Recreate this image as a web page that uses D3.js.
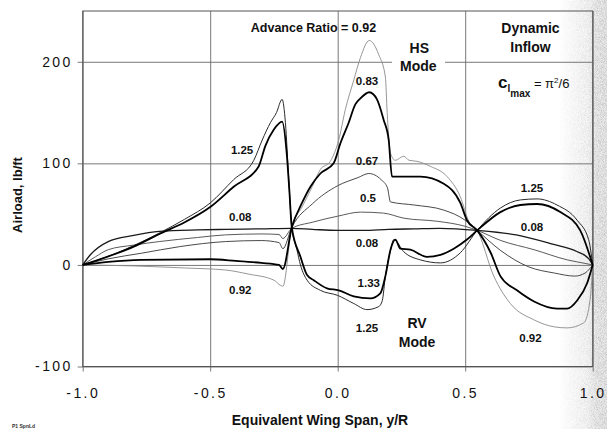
<!DOCTYPE html>
<html>
<head>
<meta charset="utf-8">
<script src="https://cdnjs.cloudflare.com/ajax/libs/d3/7.8.5/d3.min.js"></script>
<style>
  body { margin: 0; background: #fff; }
  svg { display: block; font-family: "Liberation Sans", Arial, sans-serif; }
  .tick text { font-size: 14px; letter-spacing: 2.4px; fill: #111; }
  .lbl { font-size: 11.5px; font-weight: bold; fill: #111; text-anchor: middle; }
  .big { font-size: 14px; font-weight: bold; fill: #111; text-anchor: middle; }
</style>
</head>
<body>
<svg id="chart" width="607" height="429"></svg>
<script>
// axis ticks
var xTicks = [-1.0, -0.5, 0.0, 0.5, 1.0];
var yTicks = [-100, 0, 100, 200];

// airload vs span, [y/R, lb/ft]
var mu008 = [[-1,0],[-0.97,10],[-0.9,23],[-0.8,29],[-0.7,33],[-0.55,34.5],[-0.44,35],[-0.3,35.5],[-0.18,36],
  [-0.1,35],[0,34],[0.1,34],[0.2,35],[0.3,35.5],[0.4,36],[0.547,34],[0.7,29.5],[0.834,21],[0.94,13],[0.985,6],[1,0]];
var mu050 = [[-1,0],[-0.95,8],[-0.9,15],[-0.8,19.5],[-0.7,23],[-0.55,27],[-0.44,29.6],[-0.3,30.5],[-0.23,30],[-0.215,26],
  [-0.18,36],[-0.1,42],[0,48],[0.09,52],[0.18,51],[0.26,46],[0.39,43],[0.5,38],[0.547,34],[0.64,24],[0.77,15],[0.9,5],[0.97,1.5],[1,0]];
var mu067 = [[-1,0],[-0.9,6],[-0.77,11.5],[-0.62,18],[-0.44,23],[-0.3,24],[-0.23,22],[-0.215,16],[-0.18,37],
  [-0.1,60],[0,78],[0.08,86],[0.122,90],[0.17,84],[0.195,76],[0.207,62],[0.3,59],[0.416,54],[0.5,44],[0.547,34],
  [0.64,14],[0.75,-2],[0.85,-8],[0.93,-11],[0.97,-8],[1,0]];
var mu083 = [[-1,0],[-0.9,3],[-0.77,5],[-0.5,5.6],[-0.4,4],[-0.3,2],[-0.23,0],[-0.215,-4],[-0.18,37],
  [-0.14,61],[-0.107,77],[-0.068,90],[-0.016,100],[0.011,120],[0.043,140],[0.069,158],[0.089,164],[0.124,170],
  [0.154,163],[0.18,143],[0.2,123],[0.213,87],[0.233,87],[0.324,87],[0.416,80],[0.481,61],[0.507,44],[0.547,34],
  [0.6,12],[0.638,-11],[0.703,-25],[0.77,-36],[0.86,-43],[0.9,-43],[0.939,-35],[0.978,-18],[1,0]];
var mu092 = [[-1,0],[-0.8,-1],[-0.6,-3],[-0.44,-5],[-0.35,-9],[-0.25,-15],[-0.225,-20],[-0.215,-21],[-0.18,37],
  [-0.14,57],[-0.1,77],[-0.068,94],[-0.029,102],[0.004,123],[0.03,153],[0.063,182],[0.089,204],[0.124,221],
  [0.161,207],[0.187,185],[0.194,150],[0.207,110],[0.226,103],[0.259,107],[0.28,103],[0.311,102],[0.364,97],
  [0.429,87],[0.481,67],[0.514,43],[0.547,34],[0.612,-11],[0.677,-38],[0.769,-54],[0.85,-61],[0.9,-62],
  [0.965,-57],[0.99,-34],[1,0]];
var mu125 = [[-1,0],[-0.95,4],[-0.865,12],[-0.8,19],[-0.695,32],[-0.6,45],[-0.5,61],[-0.408,84],[-0.329,103],
  [-0.296,123],[-0.264,140],[-0.24,150],[-0.218,163],[-0.205,140],[-0.192,84],[-0.18,37],[-0.16,15],[-0.146,0],
  [-0.12,-15],[-0.068,-25],[0,-30],[0.063,-38],[0.115,-44],[0.161,-41],[0.175,-35],[0.187,-11],[0.205,12],
  [0.22,25],[0.259,13],[0.324,5],[0.403,2],[0.481,12],[0.547,34],[0.638,56],[0.716,64],[0.782,65],[0.86,59],
  [0.939,44],[0.984,25],[1,0]];
var mu133 = [[-1,0],[-0.95,4],[-0.865,11.5],[-0.8,18],[-0.695,31],[-0.6,42],[-0.5,57],[-0.408,77],[-0.31,97],
  [-0.284,117],[-0.251,133],[-0.218,141],[-0.2,110],[-0.19,75],[-0.18,37],[-0.146,8],[-0.12,-10],[-0.094,-15],
  [-0.042,-23],[0.004,-25],[0.063,-31],[0.128,-33],[0.167,-28],[0.187,-11],[0.207,15],[0.226,25],[0.246,16],
  [0.285,15],[0.35,8],[0.403,10],[0.455,16],[0.507,25],[0.547,34],[0.638,52],[0.716,59],[0.782,60],[0.873,52],
  [0.951,34],[1,0]];

var series = [
  {data: mu092, stroke: "#8a8a8a", width: 0.9},
  {data: mu067, stroke: "#4a4a4a", width: 1},
  {data: mu050, stroke: "#5a5a5a", width: 1},
  {data: mu008, stroke: "#1a1a1a", width: 1.3},
  {data: mu125, stroke: "#2a2a2a", width: 1},
  {data: mu083, stroke: "#000", width: 1.8},
  {data: mu133, stroke: "#000", width: 1.8}
];

var svg = d3.select("#chart");
var pL = 82.7, pR = 592.7, pT = 11, pB = 366.5;

var x = d3.scaleLinear().domain([-1, 1]).range([pL, pR]);
var y = d3.scaleLinear().domain([-100, 250]).range([pB, pT]);

// scan speckle on the right edge
var defs = svg.append("defs");
var grad = defs.append("linearGradient").attr("id", "fade");
grad.append("stop").attr("offset", "0").attr("stop-color", "#fff").attr("stop-opacity", 0);
grad.append("stop").attr("offset", "0.6").attr("stop-color", "#fff").attr("stop-opacity", 0.45);
grad.append("stop").attr("offset", "0.8").attr("stop-color", "#fff").attr("stop-opacity", 0.9);
grad.append("stop").attr("offset", "1").attr("stop-color", "#fff").attr("stop-opacity", 1);
var mask = defs.append("mask").attr("id", "fadeMask");
mask.append("rect").attr("x", 558).attr("y", 0).attr("width", 49).attr("height", 429).attr("fill", "url(#fade)");
var f = defs.append("filter").attr("id", "grain").attr("x", 0).attr("y", 0).attr("width", 1).attr("height", 1);
f.append("feTurbulence").attr("type", "fractalNoise").attr("baseFrequency", 1.3).attr("numOctaves", 1).attr("seed", 4);
f.append("feColorMatrix").attr("type", "matrix")
  .attr("values", "0 0 0 0 0.45  0 0 0 0 0.45  0 0 0 0 0.45  2.2 0 0 0 -0.8");
svg.append("rect").attr("x", 558).attr("y", 0).attr("width", 49).attr("height", 429)
  .attr("fill", "#d0d0d0").attr("mask", "url(#fadeMask)").attr("opacity", 0.45);
svg.append("rect").attr("x", 558).attr("y", 0).attr("width", 49).attr("height", 429)
  .attr("filter", "url(#grain)").attr("mask", "url(#fadeMask)").attr("opacity", 0.8);

var fmt = function(d) { return d3.format(".1f")(d).replace("\u2212", "-"); };

// axes with grid lines
var gx = svg.append("g")
  .attr("transform", "translate(0," + pB + ")")
  .call(d3.axisBottom(x).tickValues(xTicks).tickFormat(fmt)
    .tickSizeInner(-(pB - pT)).tickSizeOuter(0).tickPadding(21.5));
gx.selectAll(".tick line").attr("y1", 5).attr("stroke", "#6a6a6a").attr("stroke-width", 0.9);

var gy = svg.append("g")
  .attr("transform", "translate(" + pL + ",0)")
  .call(d3.axisLeft(y).tickValues(yTicks).tickFormat(function(d) { return String(d); })
    .tickSizeInner(-(pR - pL)).tickSizeOuter(0).tickPadding(10));
gy.selectAll(".tick line").attr("x1", -5).attr("stroke", "#6a6a6a").attr("stroke-width", 0.9);
gx.select(".domain").remove();
gy.select(".domain").remove();
svg.selectAll(".tick text").attr("font-family", null).attr("font-size", null);

svg.append("rect").attr("x", pL).attr("y", pT)
  .attr("width", pR - pL).attr("height", pB - pT)
  .attr("fill", "none").attr("stroke", "#555").attr("stroke-width", 1);

// white patch behind the "HS Mode" label on the 200 grid line
svg.append("rect").attr("x", 392).attr("y", 38).attr("width", 53).attr("height", 38).attr("fill", "#fff");

var line = d3.line()
  .x(function(d) { return x(d[0]); })
  .y(function(d) { return y(d[1]); })
  .curve(d3.curveMonotoneX);

svg.selectAll(".curve")
  .data(series)
  .enter().append("path")
  .attr("class", "curve")
  .attr("d", function(d) { return line(d.data); })
  .attr("fill", "none")
  .attr("stroke", function(d) { return d.stroke; })
  .attr("stroke-width", function(d) { return d.width; })
  .attr("stroke-linejoin", "round");

// curve labels
var notes = [
  ["1.25", -0.375, 113], ["0.08", -0.382, 47], ["0.92", -0.382, -25],
  ["0.83", 0.115, 181.5], ["0.67", 0.115, 102], ["0.5", 0.119, 65.7], ["0.08", 0.115, 21.4],
  ["1.33", 0.122, -18], ["1.25", 0.115, -62.4],
  ["1.25", 0.762, 75.6], ["0.08", 0.762, 37.7], ["0.92", 0.756, -72.2]
];
svg.selectAll(".lbl")
  .data(notes)
  .enter().append("text")
  .attr("class", "lbl")
  .attr("x", function(d) { return x(d[1]); })
  .attr("y", function(d) { return y(d[2]); })
  .attr("dy", "0.36em")
  .text(function(d) { return d[0]; });

var big = [
  ["HS", 0.32, 213.5], ["Mode", 0.316, 195.4],
  ["RV", 0.311, -57.4], ["Mode", 0.311, -75.6],
  ["Dynamic", 0.756, 233.5], ["Inflow", 0.756, 215]
];
svg.selectAll(".big")
  .data(big)
  .enter().append("text")
  .attr("class", "big")
  .attr("x", function(d) { return x(d[1]); })
  .attr("y", function(d) { return y(d[2]); })
  .attr("dy", "0.36em")
  .text(function(d) { return d[0]; });

svg.append("text").attr("class", "lbl")
  .attr("x", x(-0.095)).attr("y", y(233.5)).attr("dy", "0.36em")
  .style("font-size", "12.5px")
  .text("Advance Ratio = 0.92");

// c_lmax = pi^2/6
var cl = svg.append("text").attr("x", 498).attr("y", 88).attr("fill", "#111");
cl.append("tspan").style("font-weight", "bold").style("font-size", "17px").text("c");
cl.append("tspan").attr("dy", 4).style("font-weight", "bold").style("font-size", "10px").text("l");
cl.append("tspan").attr("dy", 5).style("font-weight", "bold").style("font-size", "10px").text("max");
cl.append("tspan").attr("dy", -9).style("font-size", "13px").text(" = \u03c0");
cl.append("tspan").attr("dy", -5).style("font-size", "8px").text("2");
cl.append("tspan").attr("dy", 5).style("font-size", "13px").text("/6");

// axis titles
svg.append("text").attr("class", "big")
  .attr("x", 320).attr("y", 425)
  .text("Equivalent Wing Span, y/R");
svg.append("text").attr("class", "big")
  .attr("transform", "translate(22,195) rotate(-90)")
  .style("font-size", "13px")
  .text("Airload, lb/ft");

svg.append("text").attr("x", 12).attr("y", 428)
  .style("font-size", "5px").style("font-weight", "bold").attr("fill", "#333")
  .text("P1 SpnLd");
</script>
</body>
</html>
